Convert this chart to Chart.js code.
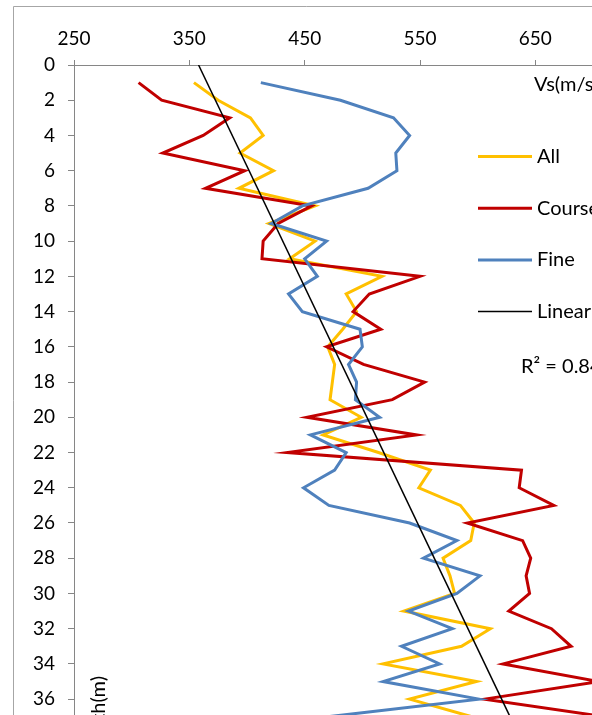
<!DOCTYPE html>
<html>
<head>
<meta charset="utf-8">
<script src="https://cdn.jsdelivr.net/npm/chart.js@4/dist/chart.umd.min.js"></script>
<style>
  html, body { margin: 0; padding: 0; overflow: hidden; background: #fff; }
  #wrap { position: absolute; left: 0; top: 0; }
</style>
</head>
<body>
<div id="wrap"><canvas id="vsChart" width="600" height="794"></canvas></div>
<script>
// depth (m) of each measurement
const depth = [1, 2, 3, 4, 5, 6, 7, 8, 9, 10, 11, 12, 13, 14, 15, 16, 17, 18, 19,
               20, 21, 22, 23, 24, 25, 26, 27, 28, 29, 30, 31, 32, 33, 34, 35, 36, 37];
// shear wave velocity Vs (m/s)
const vsAll = [354, 375, 403, 414, 394, 423, 393, 459, 419, 459, 437, 517, 486, 495, 483, 470, 476, 474, 472,
               499, 466, 514, 559, 549, 585, 597, 594, 570, 576, 580, 536, 611, 586, 518, 599, 541, 595];
const vsCourse = [306, 326, 385, 362, 327, 398, 364, 456, 427, 414, 413, 550, 506, 492, 516, 469, 501, 554, 526,
                  452, 547, 435, 638, 636, 666, 591, 639, 646, 642, 645, 627, 664, 681, 622, 705, 606, 710];
const vsFine = [412, 481, 527, 541, 529, 530, 505, 448, 421, 469, 450, 461, 436, 448, 498, 500, 488, 495, 494,
                515, 455, 486, 476, 449, 471, 541, 582, 553, 602, 582, 540, 578, 534, 567, 518, 601, 470];
// linear trend of All: Vs = a + b * depth
const trendA = 358;
const trendB = 7.3;
const trendDepth = [0, 40];
const rSquared = 'R² = 0.84';

const vsTicks = [250, 350, 450, 550, 650];
const depthTicks = [0, 2, 4, 6, 8, 10, 12, 14, 16, 18, 20, 22, 24, 26, 28, 30, 32, 34, 36];

const pts = (xs, ys) => xs.map((v, i) => ({ x: v, y: ys[i] }));
const FONT = { family: 'Lato', size: 19 };
const AXIS = '#868686';

const overlay = {
  id: 'overlay',
  afterDraw(chart) {
    const ctx = chart.ctx;
    ctx.save();
    // chart frame
    ctx.strokeStyle = '#a6a6a6';
    ctx.lineWidth = 1;
    ctx.beginPath();
    ctx.moveTo(13.5, chart.height);
    ctx.lineTo(13.5, 6.5);
    ctx.lineTo(chart.width, 6.5);
    ctx.stroke();

    ctx.font = '20px Lato';
    ctx.fillStyle = '#000';
    ctx.textBaseline = 'middle';
    ctx.fillText('Vs(m/s)', 534, 85);

    // legend
    chart.data.datasets.forEach((ds, i) => {
      const y = 156.5 + i * 51.7;
      ctx.strokeStyle = ds.borderColor;
      ctx.lineWidth = ds.borderWidth;
      ctx.beginPath();
      ctx.moveTo(478, y);
      ctx.lineTo(532, y);
      ctx.stroke();
      ctx.fillText(ds.label, 537, y);
    });
    ctx.fillText(rSquared, 521, 367);

    // depth axis title
    ctx.translate(99, 676);
    ctx.rotate(-Math.PI / 2);
    ctx.textAlign = 'right';
    ctx.fillText('Depth(m)', 0, 0);
    ctx.restore();
  }
};

const ctx = document.getElementById('vsChart').getContext('2d');
const vsChart = new Chart(ctx, {
  type: 'scatter',
  data: {
    datasets: [
      { label: 'All', data: pts(vsAll, depth), borderColor: '#FFC000', borderWidth: 3, order: 3 },
      { label: 'Course', data: pts(vsCourse, depth), borderColor: '#C00000', borderWidth: 3, order: 2 },
      { label: 'Fine', data: pts(vsFine, depth), borderColor: '#4F81BD', borderWidth: 3, order: 1 },
      { label: 'Linear (All)', data: pts(trendDepth.map(d => trendA + trendB * d), trendDepth),
        borderColor: '#000000', borderWidth: 1.5, order: 0 }
    ].map(ds => Object.assign(ds, { showLine: true, pointRadius: 0, tension: 0, fill: false }))
  },
  options: {
    responsive: false,
    animation: false,
    devicePixelRatio: 1,
    layout: { padding: { left: 0, top: 0, right: 7, bottom: 11 } },
    plugins: { legend: { display: false }, tooltip: { enabled: false } },
    scales: {
      x: {
        type: 'linear',
        position: 'top',
        min: 250,
        max: 700,
        afterBuildTicks: s => { s.ticks = vsTicks.map(v => ({ value: v })); },
        afterFit: s => { s.height = 65; },
        grid: { display: true, drawOnChartArea: false, tickLength: 5, color: AXIS },
        border: { display: true, color: AXIS, width: 1 },
        ticks: { font: FONT, color: '#000', padding: 10, maxRotation: 0 }
      },
      y: {
        type: 'linear',
        reverse: true,
        min: 0,
        max: 40,
        afterBuildTicks: s => { s.ticks = depthTicks.map(v => ({ value: v })); },
        afterFit: s => { s.width = 74; },
        grid: { display: true, drawOnChartArea: false, tickLength: 6, color: AXIS },
        border: { display: true, color: AXIS, width: 1 },
        ticks: { font: FONT, color: '#000', padding: 13 }
      }
    }
  },
  plugins: [overlay]
});
</script>
</body>
</html>
